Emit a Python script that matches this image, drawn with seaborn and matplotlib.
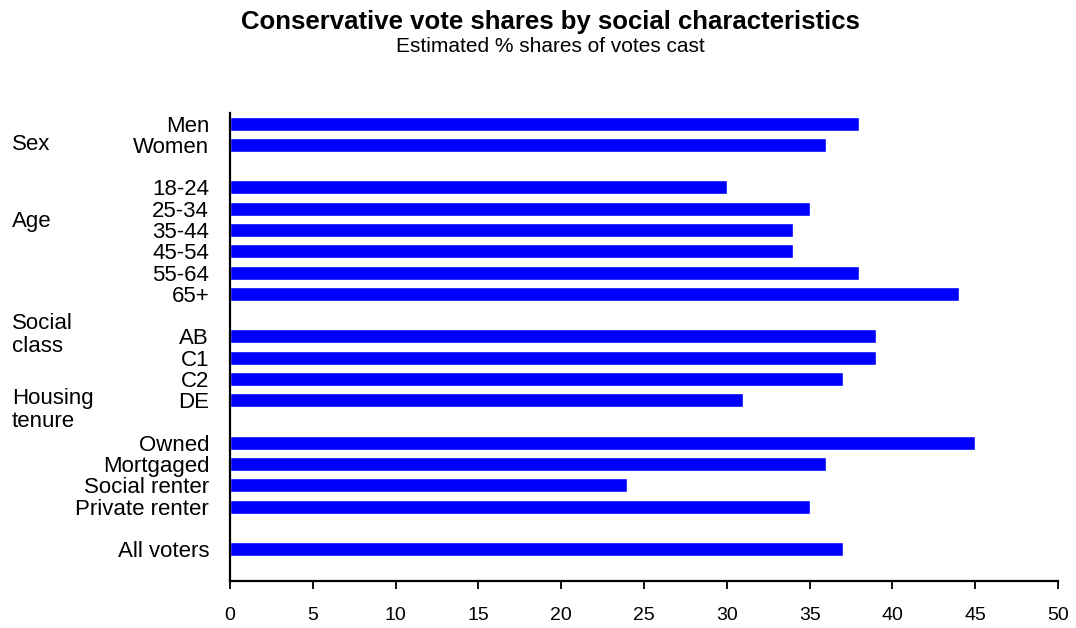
import matplotlib
matplotlib.use("Agg")
import matplotlib.pyplot as plt
import seaborn as sns
import pandas as pd

categories = ["Men", "Women", "18-24", "25-34", "35-44", "45-54", "55-64", "65+",
              "AB", "C1", "C2", "DE", "Owned", "Mortgaged", "Social renter",
              "Private renter", "All voters"]
values = [38, 36, 30, 35, 34, 34, 38, 44, 39, 39, 37, 31, 45, 36, 24, 35, 37]
group_labels = ["Sex", "Age", "Social\nclass", "Housing\ntenure"]
x_ticks = [0, 5, 10, 15, 20, 25, 30, 35, 40, 45, 50]

title = "Conservative vote shares by social characteristics"
subtitle = "Estimated % shares of votes cast"

# slot order with gaps between groups
order = ["Men", "Women", "_g1", "18-24", "25-34", "35-44", "45-54", "55-64", "65+",
         "_g2", "AB", "C1", "C2", "DE", "_g3", "Owned", "Mortgaged", "Social renter",
         "Private renter", "_g4", "All voters"]

df = pd.DataFrame({"label": categories, "value": values})

sns.set_style("white")
plt.rcParams["font.family"] = ["Liberation Sans", "DejaVu Sans"]

fig = plt.figure(figsize=(10.76, 6.28), dpi=100)
ax = fig.add_axes([230 / 1076, 1 - 581 / 628, (1058 - 230) / 1076, (581 - 113) / 628])

sns.barplot(data=df, x="value", y="label", order=order, orient="h",
            color="#0000ff", saturation=1, width=0.66, ax=ax)

ax.set_xlim(0, 50)
ax.set_ylim(21.5, -0.5)
ax.set_xticks(x_ticks)
ax.set_xticklabels([str(t) for t in x_ticks], fontsize=14)
ax.set_yticks(range(len(order)))
ax.set_yticklabels(["" if o.startswith("_g") else o for o in order], fontsize=16)
ax.set_xlabel("")
ax.set_ylabel("")

for s in ["top", "right"]:
    ax.spines[s].set_visible(False)
for s in ["left", "bottom"]:
    ax.spines[s].set_visible(True)
    ax.spines[s].set_color("black")
    ax.spines[s].set_linewidth(1.6)

ax.tick_params(axis="x", direction="out", length=6, width=1.3, color="black", pad=12.5,
               bottom=True, labelcolor="black")
ax.tick_params(axis="y", length=0, pad=15, labelcolor="black")

# group labels in left margin
group_y = [145, 221, 335, 410]
for lab, yy in zip(group_labels, group_y):
    fig.text(12 / 1076, 1 - yy / 628, lab, ha="left", va="center", fontsize=16,
             linespacing=1.15, color="black")

fig.text(550 / 1076, 1 - 22 / 628, title, ha="center", va="center", fontsize=18.5,
         fontweight="bold", color="black")
fig.text(550 / 1076, 1 - 47 / 628, subtitle, ha="center", va="center", fontsize=15,
         color="black")

fig.savefig("out.png", dpi=100)
